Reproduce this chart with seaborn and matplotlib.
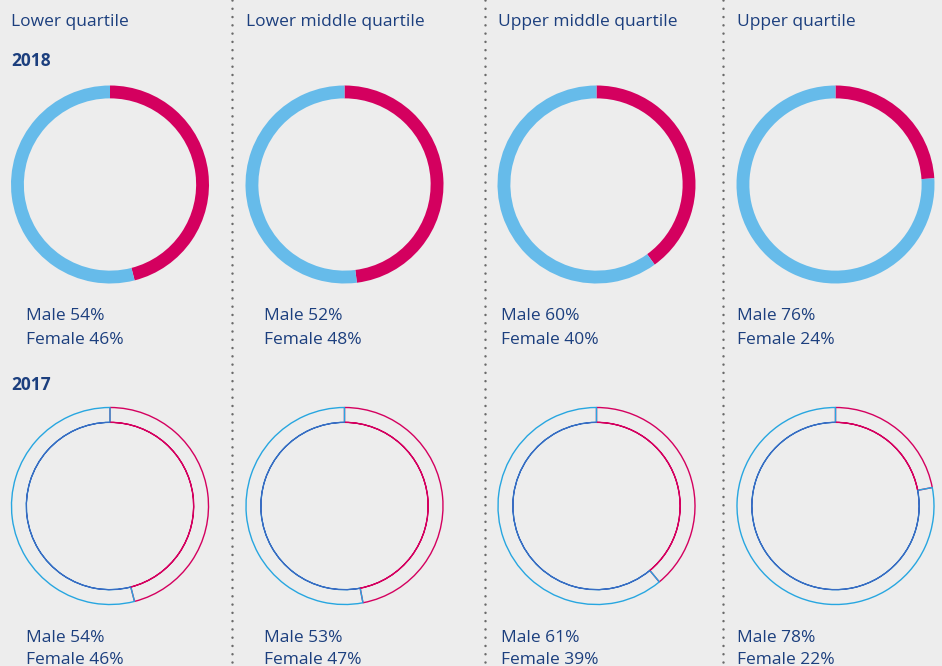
import matplotlib
matplotlib.use("Agg")
import matplotlib.pyplot as plt
import seaborn as sns

# data
quartiles = ["Lower quartile", "Lower middle quartile", "Upper middle quartile", "Upper quartile"]
male_2018 = [54, 52, 60, 76]
female_2018 = [46, 48, 40, 24]
male_2017 = [54, 53, 61, 78]
female_2017 = [46, 47, 39, 22]

W, H = 942, 666
BG = "#ededed"
NAVY = "#1c3f7e"
MAGENTA = "#d4005f"
LIGHTBLUE = "#66bbea"
CYAN = "#27a6e0"
BLUE = "#3a6cc2"
FS = 12.5

sns.set_theme(style="white", rc={"figure.facecolor": BG, "axes.facecolor": BG})
plt.rcParams["font.family"] = ["Open Sans", "DejaVu Sans"]

fig = plt.figure(figsize=(W / 100, H / 100), dpi=100)
bg = fig.add_axes([0, 0, 1, 1])
bg.set_xlim(0, W)
bg.set_ylim(H, 0)
bg.axis("off")

# dotted separators
for x in [232, 485, 723]:
    bg.plot([x, x], [0, H], color="#6a6a6a", lw=1.8,
            linestyle=(0, (0.01, 3.3)), dash_capstyle="round")

head_x = [11, 246, 498, 737]
lab_x = [26, 264, 501, 737]
centers_x = [110, 344.5, 596.5, 835.5]
R = 99


def donut_axes(cx, cy):
    ax = fig.add_axes([(cx - R) / W, (H - cy - R) / H, 2 * R / W, 2 * R / H])
    ax.set_facecolor("none")
    return ax


for i, q in enumerate(quartiles):
    bg.text(head_x[i], 21.5, q, color=NAVY, fontsize=FS, va="center", ha="left")

    # 2018 filled rings
    ax = donut_axes(centers_x[i], 184.5)
    ax.pie([female_2018[i], male_2018[i]], colors=[MAGENTA, LIGHTBLUE],
           startangle=90, counterclock=False, radius=1,
           wedgeprops=dict(width=0.13, linewidth=0))
    ax.set_xlim(-1, 1)
    ax.set_ylim(-1, 1)
    ax.set_aspect("equal")

    bg.text(lab_x[i], 315.5, f"Male {male_2018[i]}%", color=NAVY, fontsize=FS, va="center")
    bg.text(lab_x[i], 340.5, f"Female {female_2018[i]}%", color=NAVY, fontsize=FS, va="center")

    # 2017 outlined rings
    ax = donut_axes(centers_x[i], 506)
    wedges, _ = ax.pie([female_2017[i], male_2017[i]], colors=["none", "none"],
                       startangle=90, counterclock=False, radius=0.995,
                       wedgeprops=dict(width=0.15, linewidth=1.0))
    wedges[0].set_edgecolor(MAGENTA)
    wedges[1].set_edgecolor(CYAN)
    inner, _ = ax.pie([female_2017[i], male_2017[i]], colors=["none", "none"],
                      startangle=90, counterclock=False, radius=0.845,
                      wedgeprops=dict(width=0.0005, linewidth=0.8))
    inner[0].set_edgecolor(MAGENTA)
    inner[1].set_edgecolor(BLUE)
    ax.set_xlim(-1, 1)
    ax.set_ylim(-1, 1)
    ax.set_aspect("equal")

    bg.text(lab_x[i], 637.5, f"Male {male_2017[i]}%", color=NAVY, fontsize=FS, va="center")
    bg.text(lab_x[i], 660, f"Female {female_2017[i]}%", color=NAVY, fontsize=FS, va="center")

bg.text(11, 60.5, "2018", color=NAVY, fontsize=FS, fontweight="bold", va="center")
bg.text(11, 384.5, "2017", color=NAVY, fontsize=FS, fontweight="bold", va="center")

fig.savefig("out.png", dpi=100, facecolor=BG)
